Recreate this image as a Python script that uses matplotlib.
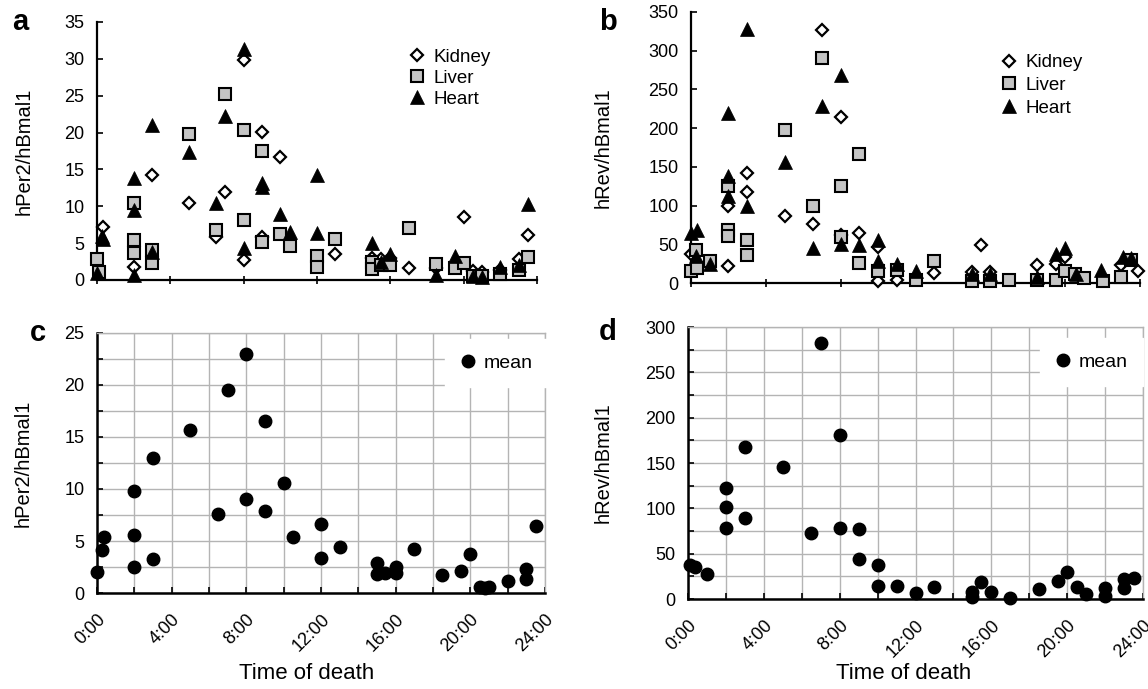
import matplotlib
matplotlib.use("Agg")
import matplotlib.pyplot as plt
from matplotlib.ticker import MultipleLocator, FixedLocator

plt.rcParams['font.family'] = ['Liberation Sans', 'DejaVu Sans']

# ---------------- data ----------------
# panel a : hPer2/hBmal1 per organ (time of death in hours)
kidney_a_t = [0.3, 2, 3, 5, 6.5, 7, 8, 8, 9, 9, 10, 13, 15, 15.5, 16, 17, 18.5, 20, 20.5, 21, 22, 23, 23.5]
kidney_a_v = [7.2, 1.8, 14.2, 10.4, 5.8, 11.9, 29.8, 2.7, 20.1, 5.8, 16.7, 3.5, 3.0, 2.8, 3.0, 1.6, 1.6, 8.5, 1.2, 1.1, 1.3, 2.8, 6.1]
liver_a_t = [0, 0.1, 2, 2, 2, 3, 3, 5, 6.5, 7, 8, 8, 9, 9, 10, 10.5, 12, 12, 13, 15, 15, 15.5, 16, 17, 18.5,
             19.5, 20, 20.5, 21, 22, 23, 23.5]
liver_a_v = [2.9, 1.1, 10.4, 5.4, 3.6, 4.1, 2.3, 19.8, 6.8, 25.2, 20.3, 8.2, 17.5, 5.2, 6.3, 4.6, 3.2, 1.8, 5.5,
             2.5, 1.5, 2.0, 2.0, 7.0, 2.2, 1.6, 2.3, 0.6, 0.5, 0.8, 1.4, 3.1]
heart_a_t = [0, 0.25, 0.35, 2, 2, 2, 3, 3, 5, 6.5, 7, 8, 8, 9, 9, 10, 10.5, 12, 12, 15, 15.5, 16, 18.5, 19.5,
             20.5, 21, 22, 23, 23.5]
heart_a_v = [0.9, 6.0, 5.6, 13.8, 9.5, 0.7, 21.0, 3.8, 17.3, 10.4, 22.2, 31.3, 4.3, 13.2, 12.6, 9.0, 6.5, 14.2,
             6.4, 5.0, 2.5, 3.5, 0.7, 3.3, 0.5, 0.4, 1.8, 2.0, 10.3]

# panel b : hRev/hBmal1 per organ
kidney_b_t = [0, 2, 2, 3, 3, 5, 6.5, 7, 8, 8, 9, 10, 10, 11, 13, 15, 15.5, 16, 18.5, 19.5, 20, 23, 23.9]
kidney_b_v = [38, 22, 100, 142, 117, 87, 76, 327, 214, 62, 64, 47, 2, 3.5, 12.5, 14, 49, 14, 23, 25, 34, 23, 15]
liver_b_t = [0, 0.3, 0.25, 1, 2, 2, 2, 3, 3, 5, 6.5, 7, 8, 8, 9, 9, 10, 11, 12, 13, 15, 16, 17, 18.5, 19.5, 20,
             20.5, 21, 22, 23, 23.5]
liver_b_v = [16, 20, 42, 29, 125, 69, 61, 55, 36, 198, 100, 291, 125, 60, 167, 26, 15, 17, 3.5, 28, 2, 2, 3.5,
             3.5, 3.5, 15, 12, 6, 3, 8, 30]
heart_b_t = [0, 0.3, 0.25, 1, 2, 2, 2, 3, 3, 5, 6.5, 7, 8, 8, 9, 10, 10, 11, 12, 15, 16, 18.5, 19.5, 20, 20.6,
             21.9, 23.1, 23.5]
heart_b_v = [64, 69, 35, 24, 220, 138, 112, 328, 99, 156, 45, 229, 269, 51, 49, 56, 29, 25, 15, 12, 12, 8, 38,
             45, 12, 17, 34, 32]

# panel c : mean hPer2/hBmal1
mean_c_t = [0, 0.28, 0.37, 2, 2, 2, 3, 3, 5, 6.5, 7, 8, 8, 9, 9, 10, 10.5, 12, 12, 13, 15, 15, 15.45, 16, 16,
            17, 18.5, 19.5, 20, 20.5, 20.8, 21, 22, 23, 23, 23.5]
mean_c_v = [2.0, 4.1, 5.4, 9.8, 5.6, 2.5, 13.0, 3.3, 15.7, 7.6, 19.5, 23.0, 9.0, 16.5, 7.9, 10.6, 5.4, 6.6, 3.4,
            4.45, 2.9, 1.8, 1.95, 2.5, 1.95, 4.2, 1.7, 2.1, 3.75, 0.6, 0.45, 0.55, 1.15, 2.3, 1.3, 6.45]

# panel d : mean hRev/hBmal1
mean_d_t = [0.1, 0.37, 1, 2, 2, 2, 3, 3, 5, 6.5, 7, 8, 8, 9, 9, 10, 10, 11, 12, 13, 15, 15, 15.45, 16, 17, 18.5,
            19.5, 20, 20.5, 21, 22, 22, 23, 23, 23.5]
mean_d_v = [37.5, 35.6, 27.6, 122, 101, 78.7, 168, 89.7, 146, 72.4, 282.7, 181, 78.7, 77.2, 44, 37.5, 14.3,
            14.3, 6.3, 13.6, 8, 2.6, 19, 8, 1.5, 10.7, 20, 30, 13, 5.1, 11.8, 3.3, 21.7, 11.8, 22.8]

hour_ticks = [0, 4, 8, 12, 16, 20, 24]
hour_labels = ['0:00', '4:00', '8:00', '12:00', '16:00', '20:00', '24:00']

W, H = 1148, 689
fig = plt.figure(figsize=(W / 100, H / 100), dpi=100)


def box(l, r, t, b):
    return [l / W, 1 - b / H, (r - l) / W, (b - t) / H]


ax_a = fig.add_axes(box(97, 537, 22, 280))
ax_b = fig.add_axes(box(691, 1140, 12, 283))
ax_c = fig.add_axes(box(97, 545, 333, 593))
ax_d = fig.add_axes(box(688, 1143, 327, 599))

kid_kw = dict(ls='none', marker='D', ms=6.5, mfc='white', mec='black', mew=1.6, clip_on=False)
liv_kw = dict(ls='none', marker='s', ms=8, mfc='#c4c4c4', mec='black', mew=1.5, clip_on=False)
hrt_kw = dict(ls='none', marker='^', ms=9.5, mfc='black', mec='black', mew=0.5, clip_on=False)

TICKFS = 13
LABFS = 14.5


def organ_panel(ax, kt, kv, lt, lv, ht, hv, ymax, ystep, ylabel, ylab_x, leg_anchor, lspace):
    ax.plot(kt, kv, label='Kidney', zorder=3, **kid_kw)
    ax.plot(lt, lv, label='Liver', zorder=4, **liv_kw)
    ax.plot(ht, hv, label='Heart', zorder=5, **hrt_kw)
    ax.set_xlim(0, 24)
    ax.set_ylim(0, ymax)
    ax.xaxis.set_major_locator(FixedLocator(hour_ticks))
    ax.set_xticklabels([])
    ax.yaxis.set_major_locator(MultipleLocator(ystep))
    for s in ('top', 'right'):
        ax.spines[s].set_visible(False)
    for s in ('left', 'bottom'):
        ax.spines[s].set_linewidth(1.6)
    ax.tick_params(axis='x', direction='inout', length=6, width=1.2)
    ax.tick_params(axis='y', direction='in', length=4, width=1.2, labelsize=TICKFS, pad=9)
    ax.set_ylabel(ylabel, fontsize=LABFS)
    ax.yaxis.set_label_coords(ylab_x, 0.5)
    ax.legend(loc='upper left', bbox_to_anchor=leg_anchor, frameon=False, fontsize=13.5,
              handlelength=0.8, handletextpad=0.5, labelspacing=lspace, borderpad=0,
              borderaxespad=0)


organ_panel(ax_a, kidney_a_t, kidney_a_v, liver_a_t, liver_a_v, heart_a_t, heart_a_v,
            35, 5, 'hPer2/hBmal1', -0.145, (0.71, 0.896), 0.2)
organ_panel(ax_b, kidney_b_t, kidney_b_v, liver_b_t, liver_b_v, heart_b_t, heart_b_v,
            350, 50, 'hRev/hBmal1', -0.174, (0.6915, 0.845), 0.3)


def mean_panel(ax, t, v, ymax, ystep, ylabel, ylab_x, xlab_xy, leg_anchor):
    ax.plot(t, v, ls='none', marker='o', ms=9, mfc='black', mec='black', label='mean',
            clip_on=False, zorder=5)
    ax.set_xlim(0, 24)
    ax.set_ylim(0, ymax)
    ax.xaxis.set_major_locator(FixedLocator(hour_ticks))
    ax.xaxis.set_minor_locator(MultipleLocator(2))
    ax.set_xticklabels(hour_labels, rotation=45, ha='right', va='top', rotation_mode='anchor',
                       fontsize=TICKFS)
    ax.yaxis.set_major_locator(MultipleLocator(ystep))
    ax.yaxis.set_minor_locator(MultipleLocator(ystep / 2))
    ax.grid(True, which='both', color='#b4b4b4', lw=1.0, zorder=0)
    ax.set_axisbelow(True)
    for s in ('top', 'right'):
        ax.spines[s].set_color('#b4b4b4')
        ax.spines[s].set_linewidth(1.0)
    for s in ('left', 'bottom'):
        ax.spines[s].set_linewidth(1.8)
    ax.tick_params(axis='x', which='both', direction='in', length=4, width=1.2, pad=13)
    ax.tick_params(axis='y', which='both', direction='in', length=4, width=1.2, labelsize=TICKFS, pad=9)
    ax.set_ylabel(ylabel, fontsize=LABFS)
    ax.yaxis.set_label_coords(ylab_x, 0.5)
    ax.set_xlabel('Time of death', fontsize=16)
    ax.xaxis.set_label_coords(*xlab_xy)
    leg = ax.legend(loc='center left', bbox_to_anchor=leg_anchor, frameon=True, fontsize=14,
                    handlelength=0.8, handletextpad=0.4, borderpad=0.8, borderaxespad=0,
                    fancybox=False)
    leg.get_frame().set_facecolor('white')
    leg.get_frame().set_edgecolor('white')
    leg.get_frame().set_alpha(1)


mean_panel(ax_c, mean_c_t, mean_c_v, 25, 5, 'hPer2/hBmal1', -0.143, (0.467, -0.27), (0.776, 0.885))
mean_panel(ax_d, mean_d_t, mean_d_v, 300, 50, 'hRev/hBmal1', -0.165, (0.473, -0.236), (0.773, 0.871))

for letter, xy in (('a', (20, 22)), ('b', (608, 22)), ('c', (38, 333)), ('d', (608, 332))):
    fig.text(xy[0] / W, 1 - xy[1] / H, letter, fontsize=21, fontweight='bold',
             ha='center', va='center')

fig.savefig('out.png', dpi=100)
